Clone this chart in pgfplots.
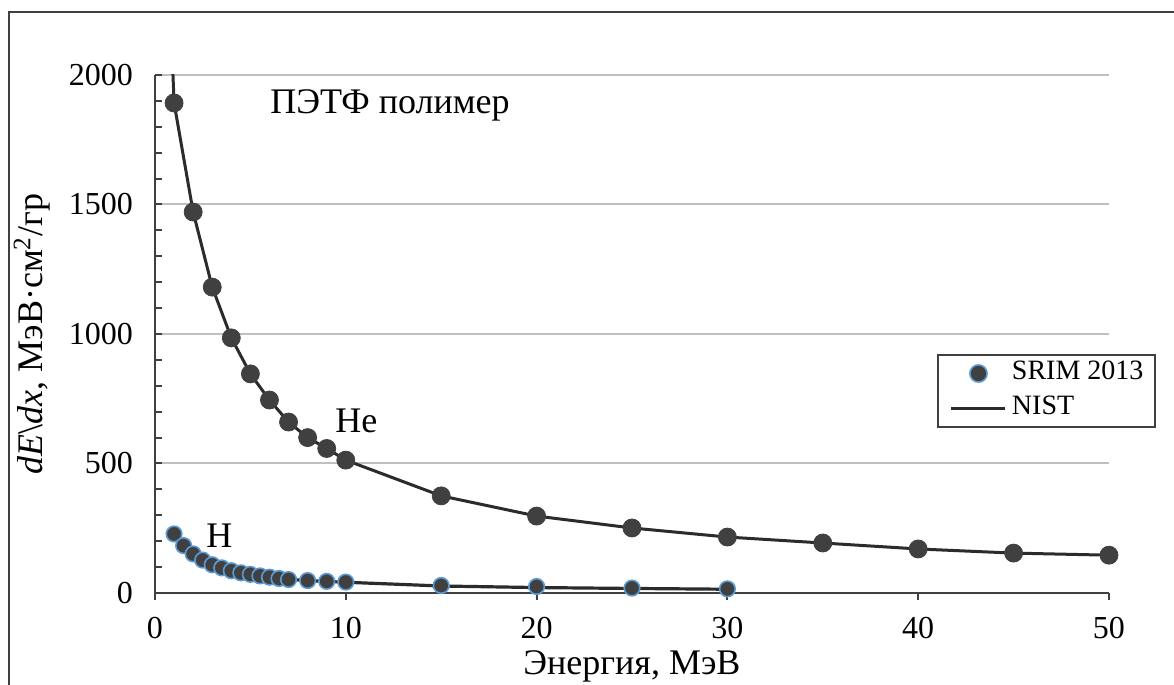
\documentclass[border=0pt]{standalone}
\usepackage{fontspec}
\setmainfont{Liberation Serif}
\usepackage{pgfplots}
\pgfplotsset{compat=1.18}
\definecolor{mdark}{HTML}{404040}
\definecolor{hblue}{HTML}{5B9BD5}
\definecolor{ldark}{HTML}{2B2B2B}
\definecolor{gridgray}{HTML}{BFBFBF}
\definecolor{axgray}{HTML}{404040}

\pgfplotstableread{
x y
1 1892
2 1471
3 1181
4 985
5 846
6 745
7 660
8 600
9 558
10 513
15 375
20 297
25 251
30 216
35 193
40 170
45 154
50 146
}\srimHe

\pgfplotstableread{
x y
0.9 2080
1 1892
2 1471
3 1181
4 985
5 846
6 745
7 660
8 600
9 558
10 513
15 375
20 297
25 251
30 216
35 193
40 170
45 154
50 146
}\nistHe

\pgfplotstableread{
x y
1 228
1.5 183
2 151
2.5 127
3 109
3.5 97
4 86
4.5 78
5 72
5.5 66
6 61
6.5 56
7 52
8 48
9 45
10 42
15 29
20 25
25 19
30 16
}\srimH

\pgfplotstableread{
x y
1 232
1.5 185
2 152
3 110
4 87
5 72
6 61
7 53
8 48
9 44.5
10 41.5
15 27
20 21
25 17.5
30 14.5
}\nistH

\begin{document}
\begin{tikzpicture}
\path[use as bounding box] (0,0) rectangle (587pt,342.5pt);
\draw[line width=1pt, axgray] (4.6pt,0pt) -- (4.6pt,336.6pt) -- (587pt,336.6pt);
\begin{axis}[
  scale only axis,
  width=477pt, height=259pt,
  at={(77.5pt,46pt)}, anchor=south west,
  xmin=0, xmax=50, ymin=0, ymax=2000,
  axis x line*=bottom, axis y line*=left,
  axis line style={draw=axgray, line width=1.1pt, -},
  xtick={0,10,...,50}, ytick={0,500,...,2000},
  minor ytick={100,200,...,1900},
  minor xtick={},
  ymajorgrids,
  major grid style={draw=gridgray, line width=1pt},
  xtick align=outside, ytick align=inside,
  major tick length=3.5pt, minor tick length=3.5pt,
  tick style={draw=axgray, line width=1pt},
  /pgf/number format/assume math mode=true,
  /pgf/number format/1000 sep={},
  ticklabel style={font=\fontsize{16}{19}\selectfont},
  yticklabel style={anchor=east, xshift=-7.5pt},
  xticklabel style={yshift=-5pt},
  xlabel={Энергия, МэВ},
  xlabel style={font=\fontsize{18}{21}\selectfont, at={(axis description cs:0.5,-0.158)}, anchor=base},
  ylabel={\textit{dE}\textbackslash\textit{dx}, МэВ·см\textsuperscript{2}/гр},
  ylabel style={font=\fontsize{18}{21}\selectfont, at={(axis description cs:-0.1174,0.5)}, anchor=base, rotate=0},
  legend style={at={(0.8197,0.4614)}, anchor=north west, draw=axgray, line width=1pt,
    font=\fontsize{14}{16}\selectfont, inner xsep=6pt, inner ysep=3pt, row sep=5pt, column sep=2.5pt,
    nodes={inner sep=0pt, text height=9.5pt, text depth=3pt}},
  legend cell align=left,
]
\addplot[ldark, line width=1.5pt, forget plot] table {\nistHe};
\addplot[ldark, line width=1.6pt, forget plot] table {\nistH};
\addplot[only marks, mark=*, mark size=4.5pt, mark options={fill=mdark, draw=mdark, line width=0.4pt}, forget plot] table {\srimHe};
\addplot[only marks, mark=*, mark size=3.9pt, mark options={fill=mdark, draw=hblue, line width=0.8pt}, forget plot] table {\srimH};
\addlegendimage{legend image code/.code={\draw[draw=hblue, fill=mdark, line width=0.8pt] (13.5pt,0pt) circle (4.3pt);}}
\addlegendentry{SRIM 2013}
\addlegendimage{legend image code/.code={\draw[ldark, line width=1.5pt] (0pt,0pt) -- (27pt,0pt);}}
\addlegendentry{NIST}
\node[anchor=base west, inner sep=0pt, font=\fontsize{18}{21}\selectfont] at (axis cs:6.03,1851) {ПЭТФ полимер};
\node[anchor=base, inner sep=0pt, font=\fontsize{18}{21}\selectfont] at (axis cs:10.56,620) {He};
\node[anchor=base, inner sep=0pt, font=\fontsize{18}{21}\selectfont] at (axis cs:3.38,176) {H};
\end{axis}
\end{tikzpicture}
\end{document}
